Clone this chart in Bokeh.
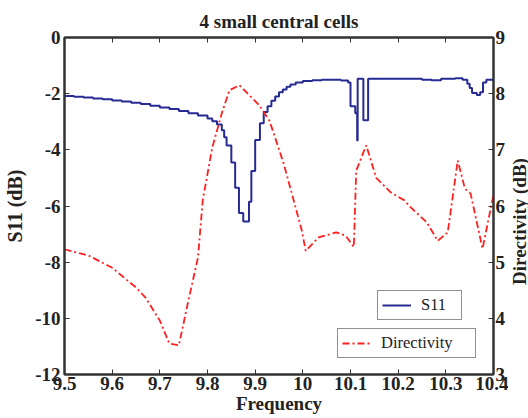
import math
from bokeh.plotting import figure
from bokeh.layouts import row
from bokeh.models import Range1d, LinearAxis, FixedTicker, Legend, LegendItem, Label
from bokeh.embed import file_html
from bokeh.resources import INLINE

title_text = "4 small central cells"
x_label = "Frequency"
y_left_label = "S11 (dB)"
y_right_label = "Directivity (dB)"

x_ticks = [9.5, 9.6, 9.7, 9.8, 9.9, 10.0, 10.1, 10.2, 10.3, 10.4]
x_tick_labels = ["9.5", "9.6", "9.7", "9.8", "9.9", "10", "10.1", "10.2", "10.3", "10.4"]
yl_ticks = [0, -2, -4, -6, -8, -10, -12]
yl_tick_labels = ["0", "-2", "-4", "-6", "-8", "-10", "-12"]
yr_ticks = [3, 4, 5, 6, 7, 8, 9]
yr_tick_labels = ["3", "4", "5", "6", "7", "8", "9"]

s11_freq = [9.500, 9.520, 9.540, 9.560, 9.580, 9.600, 9.620, 9.640, 9.660, 9.680,
            9.700, 9.720, 9.740, 9.760, 9.780, 9.800, 9.810, 9.820, 9.830, 9.835,
            9.840, 9.850, 9.858, 9.866, 9.875, 9.887, 9.892, 9.900, 9.910, 9.918,
            9.926, 9.934, 9.942, 9.950, 9.958, 9.966, 9.974, 9.985, 10.000, 10.020,
            10.040, 10.060, 10.080, 10.095, 10.100, 10.110, 10.114, 10.115, 10.127, 10.137,
            10.200, 10.250, 10.270, 10.290, 10.320, 10.335, 10.345, 10.350, 10.355, 10.365,
            10.372, 10.378, 10.385, 10.400]
s11_db = [-2.08, -2.11, -2.14, -2.17, -2.20, -2.24, -2.28, -2.32, -2.37, -2.43,
          -2.49, -2.55, -2.62, -2.70, -2.78, -2.88, -2.98, -3.10, -3.30, -3.55,
          -3.85, -4.45, -5.35, -6.25, -6.55, -5.85, -4.75, -3.65, -3.05, -2.65,
          -2.45, -2.25, -2.10, -1.95, -1.85, -1.75, -1.67, -1.60, -1.55, -1.52,
          -1.50, -1.50, -1.53, -1.60, -2.45, -2.70, -3.67, -1.47, -2.95, -1.47,
          -1.47, -1.50, -1.52, -1.47, -1.45, -1.50, -1.65, -1.80, -1.98, -2.05,
          -1.95, -1.60, -1.50, -1.47]

dir_freq = [9.500, 9.550, 9.600, 9.650, 9.670, 9.700, 9.720, 9.740, 9.760, 9.780,
            9.790, 9.810, 9.830, 9.846, 9.867, 9.888, 9.908, 9.930, 9.960, 9.998,
            10.006, 10.033, 10.070, 10.090, 10.107, 10.112, 10.133, 10.154, 10.185, 10.213,
            10.227, 10.260, 10.283, 10.304, 10.325, 10.340, 10.352, 10.377, 10.400]
dir_db = [5.23, 5.12, 4.90, 4.55, 4.37, 3.96, 3.55, 3.52, 4.32, 5.08,
          6.10, 7.04, 7.65, 8.06, 8.15, 7.97, 7.80, 7.52, 6.75, 5.56,
          5.20, 5.44, 5.53, 5.47, 5.27, 6.63, 7.08, 6.50, 6.24, 6.10,
          5.97, 5.71, 5.38, 5.53, 6.81, 6.31, 6.22, 5.24, 6.20]

FONT = "Liberation Serif"
AX_COLOR = "#333333"
TXT = "#222222"

p = figure(width=508, height=418, output_backend="svg", toolbar_location=None,
           x_range=Range1d(9.5, 10.4), y_range=Range1d(-12, 0),
           min_border_left=64, min_border_right=12, min_border_top=37, min_border_bottom=44)
p.extra_y_ranges = {"dir": Range1d(3, 9)}
p.grid.visible = False
p.outline_line_color = AX_COLOR
p.outline_line_width = 2

p.title.text = title_text
p.title.align = "center"
p.title.text_font = FONT
p.title.text_font_size = "19px"
p.title.text_font_style = "bold"
p.title.text_color = TXT
p.title.standoff = 12

def style_axis(ax, ticks, labels):
    ax.ticker = FixedTicker(ticks=ticks)
    ax.major_label_overrides = {t: l for t, l in zip(ticks, labels)}
    ax.minor_tick_line_color = None
    ax.major_tick_in = 5
    ax.major_tick_out = 0
    ax.major_tick_line_color = AX_COLOR
    ax.major_tick_line_width = 1
    ax.axis_line_color = AX_COLOR
    ax.axis_line_width = 2
    ax.major_label_text_font = FONT
    ax.major_label_text_font_size = "19px"
    ax.major_label_text_font_style = "bold"
    ax.major_label_text_color = TXT
    ax.axis_label_text_font = FONT
    ax.axis_label_text_font_size = "19px"
    ax.axis_label_text_font_style = "bold"
    ax.axis_label_text_color = TXT

style_axis(p.xaxis[0], x_ticks, x_tick_labels)
p.xaxis[0].axis_label = x_label
p.xaxis[0].major_label_standoff = 2
p.xaxis[0].axis_label_standoff = 0
style_axis(p.yaxis[0], yl_ticks, yl_tick_labels)
p.yaxis[0].axis_label = y_left_label
p.yaxis[0].axis_label_text_font_size = "20px"
p.yaxis[0].major_label_standoff = 4
p.yaxis[0].axis_label_standoff = 6

ax_r = LinearAxis(y_range_name="dir")
style_axis(ax_r, yr_ticks, yr_tick_labels)
ax_r.major_label_standoff = 2
p.add_layout(ax_r, "right")

ax_t = LinearAxis()
style_axis(ax_t, x_ticks, [""] * len(x_ticks))
ax_t.major_label_standoff = 0
p.add_layout(ax_t, "above")

r_s11 = p.step(s11_freq, s11_db, mode="after", line_color="#262a92", line_width=2)
r_dir = p.line(dir_freq, dir_db, y_range_name="dir", line_color="#ff1f1f",
               line_width=1.8, line_dash="7 3 2 3")

def make_legend(item, loc, lw):
    lg = Legend(items=[item], location=loc)
    lg.border_line_color = TXT
    lg.border_line_width = 1.5
    lg.background_fill_color = "white"
    lg.background_fill_alpha = 1
    lg.label_text_font = FONT
    lg.label_text_font_size = "16.5px"
    lg.label_text_color = TXT
    lg.glyph_width = 29
    lg.glyph_height = 16
    lg.label_height = 16
    lg.label_width = lw
    lg.padding = 4
    lg.margin = 0
    lg.spacing = 0
    lg.label_standoff = 10
    return lg

p.add_layout(make_legend(LegendItem(label="S11", renderers=[r_s11]), (313, 54), 36), "center")
p.add_layout(make_legend(LegendItem(label="Directivity", renderers=[r_dir]), (273, 16), 90), "center")

# narrow strip on the right holding the right-hand axis title (reads bottom to top)
p2 = figure(width=20, height=418, output_backend="svg", toolbar_location=None,
            x_axis_type=None, y_axis_type=None,
            min_border_left=0, min_border_right=0, min_border_top=0, min_border_bottom=0)
p2.outline_line_color = None
p2.grid.visible = False
p2.add_layout(Label(x=11, y=153, x_units="screen", y_units="screen",
                    text=y_right_label, angle=math.pi / 2,
                    text_align="center", text_baseline="middle",
                    text_font=FONT, text_font_size="19px", text_font_style="bold",
                    text_color=TXT))

layout = row(p, p2, spacing=0)
open("out.html", "w").write(file_html(layout, INLINE))
